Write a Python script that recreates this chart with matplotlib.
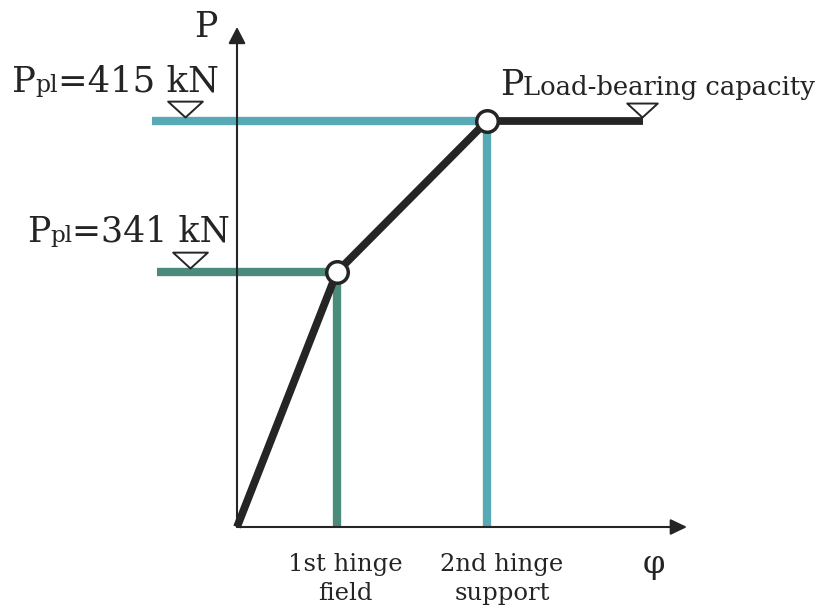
import matplotlib
matplotlib.use("Agg")
import matplotlib.pyplot as plt
from matplotlib.path import Path
from matplotlib.transforms import ScaledTranslation

# ---------------- data (schematic units) ----------------
phi_curve = [0.0, 1.0, 2.5, 4.06]      # rotation phi of load-deformation curve
p_curve = [0.0, 2.55, 4.06, 4.06]      # drawn load level
hinge_phi = [1.0, 2.5]                 # 1st and 2nd plastic hinge
hinge_p = [2.55, 4.06]
p_pl_values = [341, 415]               # kN
hinge_labels = ["1st hinge\nfield", "2nd hinge\nsupport"]
level_line_start = [-0.80, -0.85]      # where the horizontal level lines start
level_marker_phi = [-0.47, -0.52]      # triangle markers on level lines
level_text_phi = [-2.10, -2.25]
capacity_text = "Load-bearing capacity"

# ---------------- style ----------------
GREEN = "#4b8b7b"
CYAN = "#58a9b6"
DARK = "#252525"
TXT = "#242424"
FONT = "DejaVu Serif"
level_colors = [GREEN, CYAN]

fig = plt.figure(figsize=(8.27, 6.12), dpi=100)
ax = fig.add_axes([0, 0, 1, 1])
ax.set_xlim(-2.37, 5.90)
ax.set_ylim(-0.85, 5.27)
ax.axis("off")

# axes with arrows
ax.annotate("", xy=(0, 5.00), xytext=(0, 0),
            arrowprops=dict(arrowstyle="-|>,head_length=1.0,head_width=0.52",
                            mutation_scale=10, lw=1.5, color=DARK,
                            shrinkA=0, shrinkB=0), zorder=3)
ax.annotate("", xy=(4.50, 0), xytext=(0, 0),
            arrowprops=dict(arrowstyle="-|>,head_length=1.0,head_width=0.48",
                            mutation_scale=10, lw=1.5, color=DARK,
                            shrinkA=0, shrinkB=0), zorder=3)

# level lines (horizontal + vertical drop)
for x0, hp, hy, c in zip(level_line_start, hinge_phi, hinge_p, level_colors):
    ax.plot([x0, hp], [hy, hy], color=c, lw=6.0, solid_capstyle="butt", zorder=2)
    ax.plot([hp, hp], [hy, 0], color=c, lw=6.0, solid_capstyle="butt", zorder=2)

# main curve
ax.plot(phi_curve, p_curve, color=DARK, lw=5.6, solid_capstyle="butt",
        solid_joinstyle="miter", zorder=4)
ax.plot(hinge_phi, hinge_p, "o", ms=15.5, mfc="white", mec=DARK, mew=2.5, zorder=5)

# triangle markers (apex at origin)
tri = Path([(-1, 0.914), (1, 0.914), (0, 0), (-1, 0.914)],
           [Path.MOVETO, Path.LINETO, Path.LINETO, Path.CLOSEPOLY])
lift = ScaledTranslation(0, 3.2 / 72, fig.dpi_scale_trans)
for mx, hy in zip(level_marker_phi, hinge_p):
    ax.plot([mx], [hy], marker=tri, ms=25, mfc="white", mec=DARK, mew=1.4,
            transform=ax.transData + lift, zorder=6)
ax.plot([phi_curve[-1] - 0.01], [p_curve[-1]], marker=tri, ms=22, mfc="white",
        mec=DARK, mew=1.4, transform=ax.transData + lift, zorder=6)

renderer = fig.canvas.get_renderer()


def rich(x, y, parts):
    off = 0.0
    for s, size in parts:
        tr = ax.transData + ScaledTranslation(off / 72, 0, fig.dpi_scale_trans)
        t = ax.text(x, y, s, fontsize=size, family=FONT, color=TXT,
                    ha="left", va="baseline", transform=tr)
        bb = t.get_window_extent(renderer)
        off += bb.width * 72 / fig.dpi


# level labels
text_base = [2.85, 4.35]
text_size = [25.0, 25.5]
for tx, tyb, val, sz in zip(level_text_phi, text_base, p_pl_values, text_size):
    rich(tx, tyb, [("P", sz), ("pl", sz * 0.667), (f"={val} kN", sz)])
rich(2.63, 4.32, [("P", 25), (capacity_text, 18.6)])

# axis labels
ax.text(-0.20, 4.90, "P", fontsize=25, family=FONT, color=TXT, ha="right", va="baseline")
ax.text(4.17, -0.38, "φ", fontsize=23, family=FONT, color=TXT, ha="center", va="center")

# hinge labels
label_dx = [0.08, 0.15]
for hp, lab, dx in zip(hinge_phi, hinge_labels, label_dx):
    ax.text(hp + dx, -0.26, lab, fontsize=17.5, family=FONT, color=TXT,
            ha="center", va="top", linespacing=1.35)

fig.savefig("out.png", dpi=100)
